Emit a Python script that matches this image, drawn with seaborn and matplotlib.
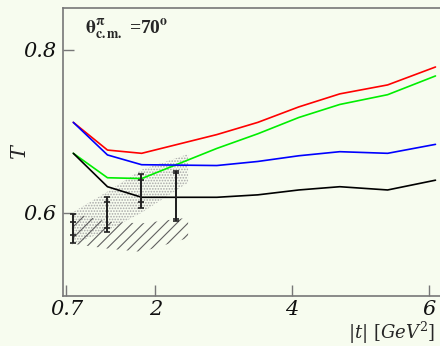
import numpy as np
import pandas as pd
import matplotlib
matplotlib.use('Agg')
import matplotlib.pyplot as plt
import seaborn as sns

# model curves, T vs |t|
t_curve = [0.8, 1.3, 1.8, 2.9, 3.5, 4.1, 4.7, 5.4, 6.1]
T_red = [0.711, 0.677, 0.673, 0.696, 0.711, 0.730, 0.746, 0.757, 0.779]
T_green = [0.673, 0.643, 0.642, 0.679, 0.697, 0.717, 0.733, 0.745, 0.768]
T_blue = [0.711, 0.671, 0.659, 0.658, 0.663, 0.670, 0.675, 0.673, 0.684]
T_black = [0.673, 0.632, 0.619, 0.619, 0.622, 0.628, 0.632, 0.628, 0.640]

# data points with stat (inner) and total (outer) errors
t_data = [0.79, 1.29, 1.79, 2.31]
T_data = [0.581, 0.5975, 0.6266, 0.6206]
err_inner = [0.008, 0.0156, 0.0135, 0.0285]
err_outer = [0.018, 0.0215, 0.0209, 0.0313]

# dotted band
band1_t = [0.78, 1.3, 1.8, 2.48]
band1_lo = [0.561, 0.578, 0.600, 0.637]
band1_hi = [0.600, 0.626, 0.653, 0.672]

# hatched band
band2_t = [0.78, 1.3, 1.8, 2.48]
band2_lo = [0.562, 0.556, 0.552, 0.569]
band2_hi = [0.600, 0.589, 0.587, 0.594]

df = pd.DataFrame({
    't': t_curve * 4,
    'T': T_red + T_green + T_blue + T_black,
    'model': ['red'] * 9 + ['green'] * 9 + ['blue'] * 9 + ['black'] * 9,
})

sns.set_style('ticks')
plt.rcParams['font.family'] = ['DejaVu Serif']
plt.rcParams['hatch.linewidth'] = 0.8

bg = '#f7fcef'
fig = plt.figure(figsize=(4.4, 3.46), dpi=100, facecolor=bg)
ax = fig.add_axes([0.143, 0.145, 0.87, 0.832], facecolor=bg)

ax.fill_between(band1_t, band1_lo, band1_hi, facecolor='none', edgecolor='#a8a8a8',
                hatch='......', linewidth=0)
ax.fill_between(band2_t, band2_lo, band2_hi, facecolor='none', edgecolor='#606060',
                hatch='///', linewidth=0)

sns.lineplot(data=df, x='t', y='T', hue='model',
             palette={'red': '#ff0000', 'green': '#00ee00', 'blue': '#0000ff', 'black': '#000000'},
             linewidth=1.2, legend=False, ax=ax, zorder=3)

ax.errorbar(t_data, T_data, yerr=err_outer, fmt='none', ecolor='#222222',
            elinewidth=1.4, capsize=2.2, capthick=1.2, zorder=4)
ax.errorbar(t_data, T_data, yerr=err_inner, fmt='none', ecolor='#222222',
            elinewidth=1.4, capsize=2.2, capthick=1.2, zorder=4)

ax.set_xlim(0.648, 6.25)
ax.set_ylim(0.498, 0.8515)
ax.set_xticks([0.7, 2, 4, 6])
ax.set_xticklabels(['0.7', '2', '4', '6'])
ax.set_yticks([0.6, 0.8])
ax.set_yticklabels(['0.6', '0.8'])
ax.tick_params(direction='in', length=8, width=1, color='#777777', labelsize=15)
ax.tick_params(axis='x', pad=3)
ax.tick_params(axis='y', pad=5)
for lab in ax.get_xticklabels() + ax.get_yticklabels():
    lab.set_fontstyle('italic')
    lab.set_color('#111111')

for s in ['left', 'bottom', 'top']:
    ax.spines[s].set_color('#777777')
    ax.spines[s].set_linewidth(1.2)
ax.spines['right'].set_visible(False)

ax.set_xlabel('')
ax.set_ylabel('')
fig.text(0.045, 0.56, 'T', rotation=90, fontsize=15, fontstyle='italic',
         ha='center', va='center')
fig.text(0.99, 0.022, r'$|t|\ [GeV^2]$', fontsize=13, ha='right', va='baseline',
         math_fontfamily='dejavuserif')
ax.text(0.057, 0.924, r'$\mathbf{\theta^{\pi}_{c.m.}}$ =70$^{\mathbf{o}}$',
        transform=ax.transAxes, fontsize=14, fontweight='bold', va='center',
        family=['Liberation Serif'], math_fontfamily='stix')

fig.savefig('out.png', dpi=100, facecolor=bg)
